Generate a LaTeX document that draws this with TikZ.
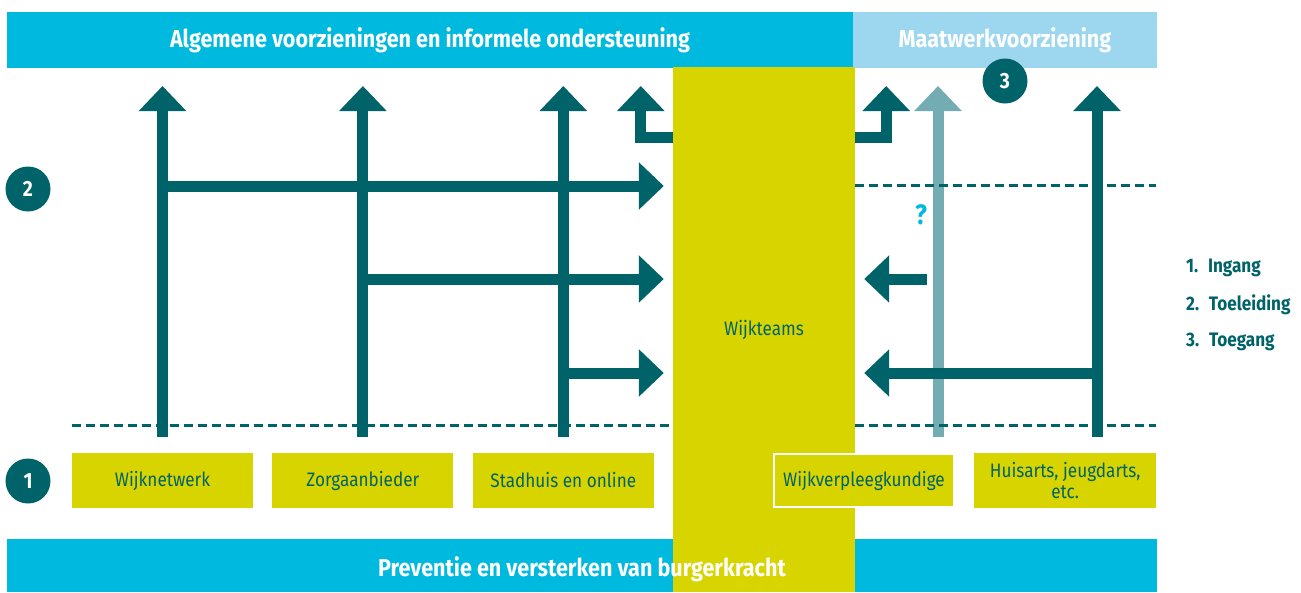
\documentclass[tikz,border=0pt]{standalone}
\usepackage{fontspec}
\setmainfont{Fira Sans}[FakeStretch=0.88]
\usetikzlibrary{positioning,arrows.meta}

\definecolor{wtteal}{HTML}{00636A}
\definecolor{wtpale}{HTML}{74ACB4}
\definecolor{wtblue}{HTML}{00B9DF}
\definecolor{wtsky}{HTML}{9CD7EF}
\definecolor{wtyellow}{HTML}{D7D400}

\tikzset{
  bar/.style = {fill = wtblue, minimum height = 56pt, inner sep = 0pt, text = white,
    font = \fontsize{24.5}{28}\selectfont\bfseries},
  box/.style = {fill = wtyellow, minimum width = 181pt, minimum height = 55pt, inner sep = 2pt,
    text = wtteal, align = center, font = \fontsize{19.5}{21}\selectfont},
  flow/.style = {draw = wtteal, line width = 11pt, line join = miter,
    -{Triangle[width = 46pt, length = 25pt]}},
  dashline/.style = {draw = wtteal, line width = 3pt, dash pattern = on 9pt off 5pt},
  badge/.style = {circle, fill = wtteal, minimum size = 45pt, inner sep = 0pt, text = white,
    font = \fontsize{22}{24}\selectfont\bfseries},
  legend/.style = {anchor = west, inner sep = 0pt, text = wtteal,
    font = \fontsize{19.5}{22}\selectfont\bfseries}
}

\begin{document}
\begin{tikzpicture}[x = 1pt, y = -1pt]
  \useasboundingbox (0,0) rectangle (1301,592);

  % bars and the column of the wijkteams
  \node[bar, minimum width = 846pt] (algemeen) at (430,40) {Algemene voorzieningen en informele ondersteuning};
  \node[bar, fill = wtsky, minimum width = 304pt] (maatwerk) at (1005,40) {Maatwerkvoorziening};
  \node[bar, minimum width = 1150pt, minimum height = 53pt] (preventie) at (582,565.5) {};
  \node[fill = wtyellow, minimum width = 182pt, minimum height = 525pt, inner sep = 0pt, text = wtteal,
    font = \fontsize{19.5}{22}\selectfont] (wijkteams) at (764,329.5) {Wijkteams};
  \node[text = white, font = \fontsize{24.5}{28}\selectfont\bfseries] (preventie-tekst) at ([yshift=-4pt]preventie) {Preventie en versterken van burgerkracht};

  % ingang
  \node[box] (wijknetwerk) at (162.5,480.5) {Wijknetwerk};
  \node[box, right = 19pt of wijknetwerk] (zorgaanbieder) {Zorgaanbieder};
  \node[box, right = 19pt of zorgaanbieder] (stadhuis) {Stadhuis en online};
  \node[box, draw = white, line width = 2pt, minimum width = 180pt, minimum height = 53pt] (verpleeg) at (864,480.5) {Wijkverpleegkundige};
  \node[box, minimum width = 182pt, right = 19pt of verpleeg] (huisarts) {Huisarts, jeugdarts,\\ etc.};

  \coordinate (rij1) at (0,186);
  \coordinate (rij2) at (0,279);
  \coordinate (rij3) at (0,373);
  \coordinate (knik) at (0,137);
  \coordinate (top) at (0,86);
  \coordinate (verpleeg-voet) at (938,437);
  \coordinate (huisarts-voet) at (1097,437);

  \draw[flow, draw = wtpale, -{Triangle[width = 46pt, length = 25pt, fill = wtpale]}] (verpleeg-voet) -- (verpleeg-voet |- top);
  \node[text = wtblue, font = \fontsize{28}{30}\selectfont\bfseries] (vraag) at (921,215) {?};

  \draw[dashline] (wijknetwerk.west |- 0,425) -- (wijkteams.west |- 0,425);
  \draw[dashline] (wijkteams.east |- 0,425) -- (huisarts.east |- 0,425);
  \draw[dashline] (wijkteams.east |- 0,185) -- (huisarts.east |- 0,185);

  % toeleiding
  \draw[flow] ([yshift=16pt]wijknetwerk.north) -- (wijknetwerk.north |- top);
  \draw[flow] ([yshift=16pt]zorgaanbieder.north) -- (zorgaanbieder.north |- top);
  \draw[flow] ([yshift=16pt]stadhuis.north) -- (stadhuis.north |- top);
  \draw[flow] (huisarts-voet) -- (huisarts-voet |- top);

  \draw[flow] (wijknetwerk.north |- rij1) -- ([xshift=-9pt]wijkteams.west |- rij1);
  \draw[flow] (zorgaanbieder.north |- rij2) -- ([xshift=-9pt]wijkteams.west |- rij2);
  \draw[flow] (stadhuis.north |- rij3) -- ([xshift=-9pt]wijkteams.west |- rij3);
  \draw[flow] ([xshift=-11pt]verpleeg-voet |- rij2) -- ([xshift=9pt]wijkteams.east |- rij2);
  \draw[flow] (huisarts-voet |- rij3) -- ([xshift=9pt]wijkteams.east |- rij3);

  % toegang
  \draw[flow] (wijkteams.west |- knik) -| ([xshift=-32pt]wijkteams.west |- top);
  \draw[flow] (wijkteams.east |- knik) -| ([xshift=31pt]wijkteams.east |- top);

  \node[badge] (stap1) at (28,481) {1};
  \node[badge] (stap2) at (28,189) {2};
  \node[badge] (stap3) at (1005,81) {3};

  \node[legend] (ingang) at (1186,268) {1.\enspace Ingang};
  \node[legend] (toeleiding) at (1186,305) {2.\enspace Toeleiding};
  \node[legend] (toegang) at (1186,342) {3.\enspace Toegang};
\end{tikzpicture}
\end{document}
